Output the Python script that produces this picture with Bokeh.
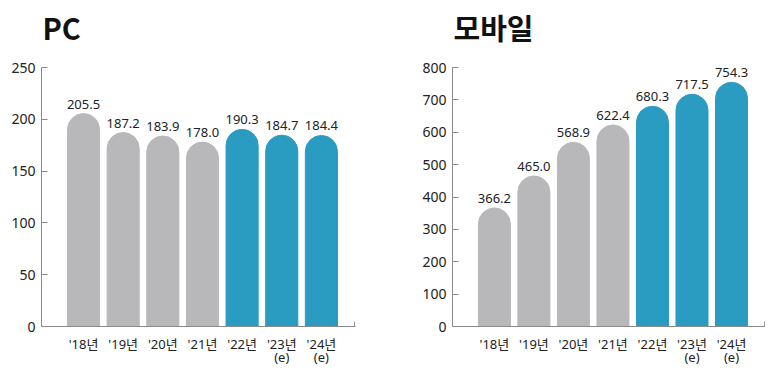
from bokeh.plotting import figure
from bokeh.layouts import row
from bokeh.models import ColumnDataSource, FixedTicker, Range1d
from bokeh.core.properties import value
from bokeh.embed import file_html
from bokeh.resources import INLINE

years = ["'18년", "'19년", "'20년", "'21년", "'22년", "'23년\n(e)", "'24년\n(e)"]
pc_values = [205.5, 187.2, 183.9, 178.0, 190.3, 184.7, 184.4]
mobile_values = [366.2, 465.0, 568.9, 622.4, 680.3, 717.5, 754.3]
bar_colors = ["#b8b8bb"] * 4 + ["#2a9bc1"] * 3
pc_ticks = [0, 50, 100, 150, 200, 250]
mobile_ticks = [0, 100, 200, 300, 400, 500, 600, 700, 800]

FONT = "Noto Sans CJK KR"
NUMFONT = "Noto Sans, Noto Sans CJK KR"

# layout constants (pixels)
FIG_H = 372
BOTTOM = 46          # space under the plot frame
AXIS_TOP = 67        # y of the top tick
FRAME_H = FIG_H - BOTTOM   # frame spans from the top of the figure
AXIS_H = FRAME_H - AXIS_TOP


def make(title, vals, ticks, width, min_left, min_right):
    xs = list(range(len(vals)))
    src = ColumnDataSource(dict(x=xs, top=vals, color=bar_colors,
                                label=[f"{v:.1f}" for v in vals]))
    x_start, x_end = -1.06, 6.86
    y_top = ticks[-1] * FRAME_H / AXIS_H
    p = figure(width=width, height=FIG_H, output_backend="svg", toolbar_location=None,
               x_range=Range1d(x_start, x_end), y_range=Range1d(0, y_top),
               min_border_left=min_left, min_border_right=min_right,
               min_border_top=0, min_border_bottom=BOTTOM)
    p.outline_line_color = None
    p.grid.visible = False
    p.text(x=[x_start], y=[ticks[-1]], text=[title], text_align="left",
           text_baseline="alphabetic", y_offset=-41, x_offset=1,
           text_font=value(FONT), text_font_size="29px", text_font_style="bold",
           text_color="#111111")
    p.vbar(x="x", top="top", width=0.81, color="color", source=src,
           border_radius=(16, 16, 0, 0))
    p.text(x="x", y="top", text="label", source=src, text_align="center",
           text_baseline="bottom", y_offset=-5, text_font=value(NUMFONT),
           text_font_size="13px", text_color="#222222")
    p.segment(x0=[x_end - 0.02], x1=[x_end - 0.02], y0=[0], y1=[ticks[-1] * 5 / AXIS_H],
              line_color="#8a8a8a", line_width=1)
    ya = p.yaxis[0]
    ya.ticker = FixedTicker(ticks=ticks)
    ya.bounds = (0, ticks[-1])
    ya.minor_tick_line_color = None
    ya.major_tick_in = 6
    ya.major_tick_out = 0
    ya.axis_line_color = "#8a8a8a"
    ya.major_tick_line_color = "#8a8a8a"
    ya.major_label_text_font = NUMFONT
    ya.major_label_text_font_size = "14px"
    ya.major_label_text_color = "#222222"
    ya.major_label_standoff = 6
    xa = p.xaxis[0]
    xa.ticker = FixedTicker(ticks=xs)
    xa.major_label_overrides = {i: years[i] for i in xs}
    xa.minor_tick_line_color = None
    xa.major_tick_line_color = None
    xa.major_tick_in = 0
    xa.major_tick_out = 0
    xa.axis_line_color = "#8a8a8a"
    xa.major_label_text_font = NUMFONT
    xa.major_label_text_font_size = "13px"
    xa.major_label_text_color = "#222222"
    xa.major_label_text_line_height = 0.75
    xa.major_label_standoff = 8
    return p


p1 = make("PC", pc_values, pc_ticks, 390, 41, 35)
p2 = make("모바일", mobile_values, mobile_ticks, 375, 62, 0)
layout = row(p1, p2)
open("out.html", "w").write(file_html(layout, INLINE))
